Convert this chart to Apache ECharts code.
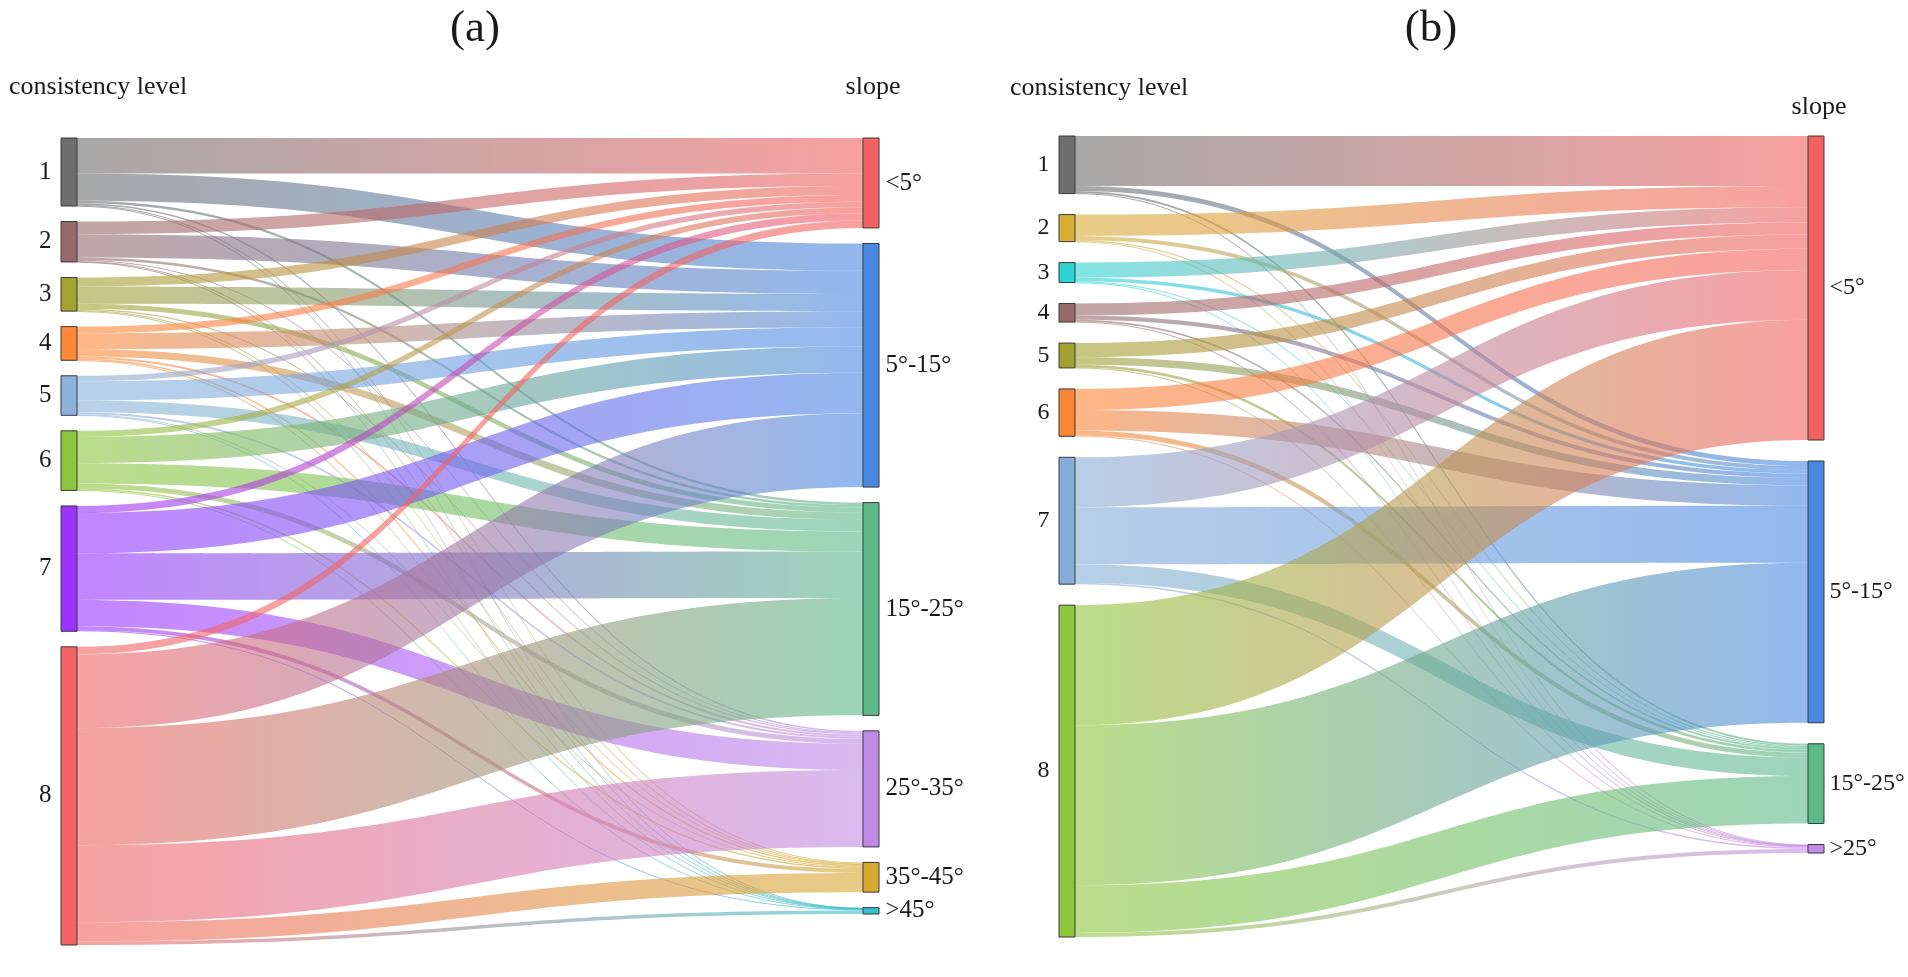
<!DOCTYPE html>
<html>
<head>
<meta charset="utf-8">
<script src="https://cdn.jsdelivr.net/npm/echarts@6/dist/echarts.min.js"></script>
<style>
html,body{margin:0;padding:0;background:#ffffff;}
#chart{width:1908px;height:977px;}
</style>
</head>
<body>
<div id="chart"></div>
<script>
// ---------- data: panel (a) ----------
const levelsA = ['1', '2', '3', '4', '5', '6', '7', '8'];
const slopesA = ['<5°', '5°-15°', '15°-25°', '25°-35°', '35°-45°', '>45°'];
// rows = consistency level, columns = slope class
const flowsA = [
  [35,   27,  2.5, 1.5, 1,   0.3],
  [12.5, 23,  2.5, 1,   0.8, 0.2],
  [9,    17,  5,   1.3, 0.8, 0.2],
  [6.5,  16,  7,   2,   1.5, 0.3],
  [5.5,  19,  11.5,2,   0.8, 0.3],
  [6,    26,  20,  5,   1.5, 0.5],
  [7,    40,  46,  26,  4,   1],
  [7.5,  73,  116, 76,  19,  3.5]
];

// ---------- data: panel (b) ----------
const levelsB = ['1', '2', '3', '4', '5', '6', '7', '8'];
const slopesB = ['<5°', '5°-15°', '15°-25°', '>25°'];
const flowsB = [
  [49,   5,    2,    0.5],
  [21,   4,    1.2,  0.3],
  [15,   3.3,  1,    0.3],
  [11.7, 4.3,  1.7,  0.5],
  [14,   7.3,  2.7,  0.4],
  [20.7, 20,   5,    0.8],
  [49,   56,   18,   1.5],
  [118,  157,  46.7, 4]
];

// ---------- styles ----------
const levelColorsA = ['#6e6e6e', '#966a6a', '#a4a332', '#fd8936', '#8cb2dc', '#8cc63c', '#9933ff', '#f26464'];
const slopeColorsA = ['#f26262', '#4a89e2', '#5cb98a', '#c08be6', '#d6aa30', '#36bfcc'];
const levelColorsB = ['#6e6e6e', '#d9ac33', '#2ed3d3', '#976a6a', '#a2a233', '#fb8636', '#86add9', '#8cc63c'];
const slopeColorsB = ['#f26262', '#4a89e2', '#5cb98a', '#c58ae8'];

const FONT = '"Liberation Serif", "Times New Roman", serif';

function buildNodes(levels, slopes, lc, sc, rightDist) {
  const nodes = [];
  levels.forEach((n, i) => nodes.push({
    name: n,
    itemStyle: { color: lc[i] },
    label: { position: 'left', distance: 9 }
  }));
  slopes.forEach((n, i) => nodes.push({
    name: n,
    itemStyle: { color: sc[i] },
    label: { position: 'right', distance: rightDist }
  }));
  return nodes;
}
function buildLinks(levels, slopes, flows) {
  const links = [];
  levels.forEach((s, i) => {
    slopes.forEach((t, j) => {
      links.push({ source: s, target: t, value: flows[i][j] });
    });
  });
  return links;
}

function sankeySeries(box, gap, labelSize, nodes, links) {
  return {
    type: 'sankey',
    left: box[0], top: box[1], width: box[2], height: box[3],
    nodeWidth: 16,
    nodeGap: gap,
    layoutIterations: 0,
    nodeAlign: 'justify',
    draggable: false,
    emphasis: { disabled: true },
    itemStyle: { borderColor: '#3a3a3a', borderWidth: 1 },
    lineStyle: { color: 'gradient', opacity: 0.6, curveness: 0.5 },
    label: { fontFamily: FONT, fontSize: labelSize, color: '#1a1a1a' },
    data: nodes,
    links: links
  };
}

function txt(x, y, s, size, align) {
  return {
    type: 'text', x: x, y: y, silent: true,
    style: { text: s, fontFamily: FONT, fontSize: size, fill: '#1a1a1a',
             textAlign: align, textVerticalAlign: 'middle' }
  };
}

const chart = echarts.init(document.getElementById('chart'), null, { renderer: 'canvas' });
chart.setOption({
  backgroundColor: '#ffffff',
  animation: false,
  tooltip: { show: false },
  graphic: [
    txt(475, 29, '(a)', 45, 'center'),
    txt(9, 87, 'consistency level', 26, 'left'),
    txt(873, 87, 'slope', 26, 'center'),
    txt(1431, 29, '(b)', 45, 'center'),
    txt(1010, 88, 'consistency level', 26, 'left'),
    txt(1819, 107, 'slope', 26, 'center')
  ],
  series: [
    sankeySeries([61, 138, 818, 807], 15.5, 25,
      buildNodes(levelsA, slopesA, levelColorsA, slopeColorsA, 6),
      buildLinks(levelsA, slopesA, flowsA)),
    sankeySeries([1059, 136, 765, 801], 21, 24,
      buildNodes(levelsB, slopesB, levelColorsB, slopeColorsB, 5),
      buildLinks(levelsB, slopesB, flowsB))
  ]
});
</script>
</body>
</html>
